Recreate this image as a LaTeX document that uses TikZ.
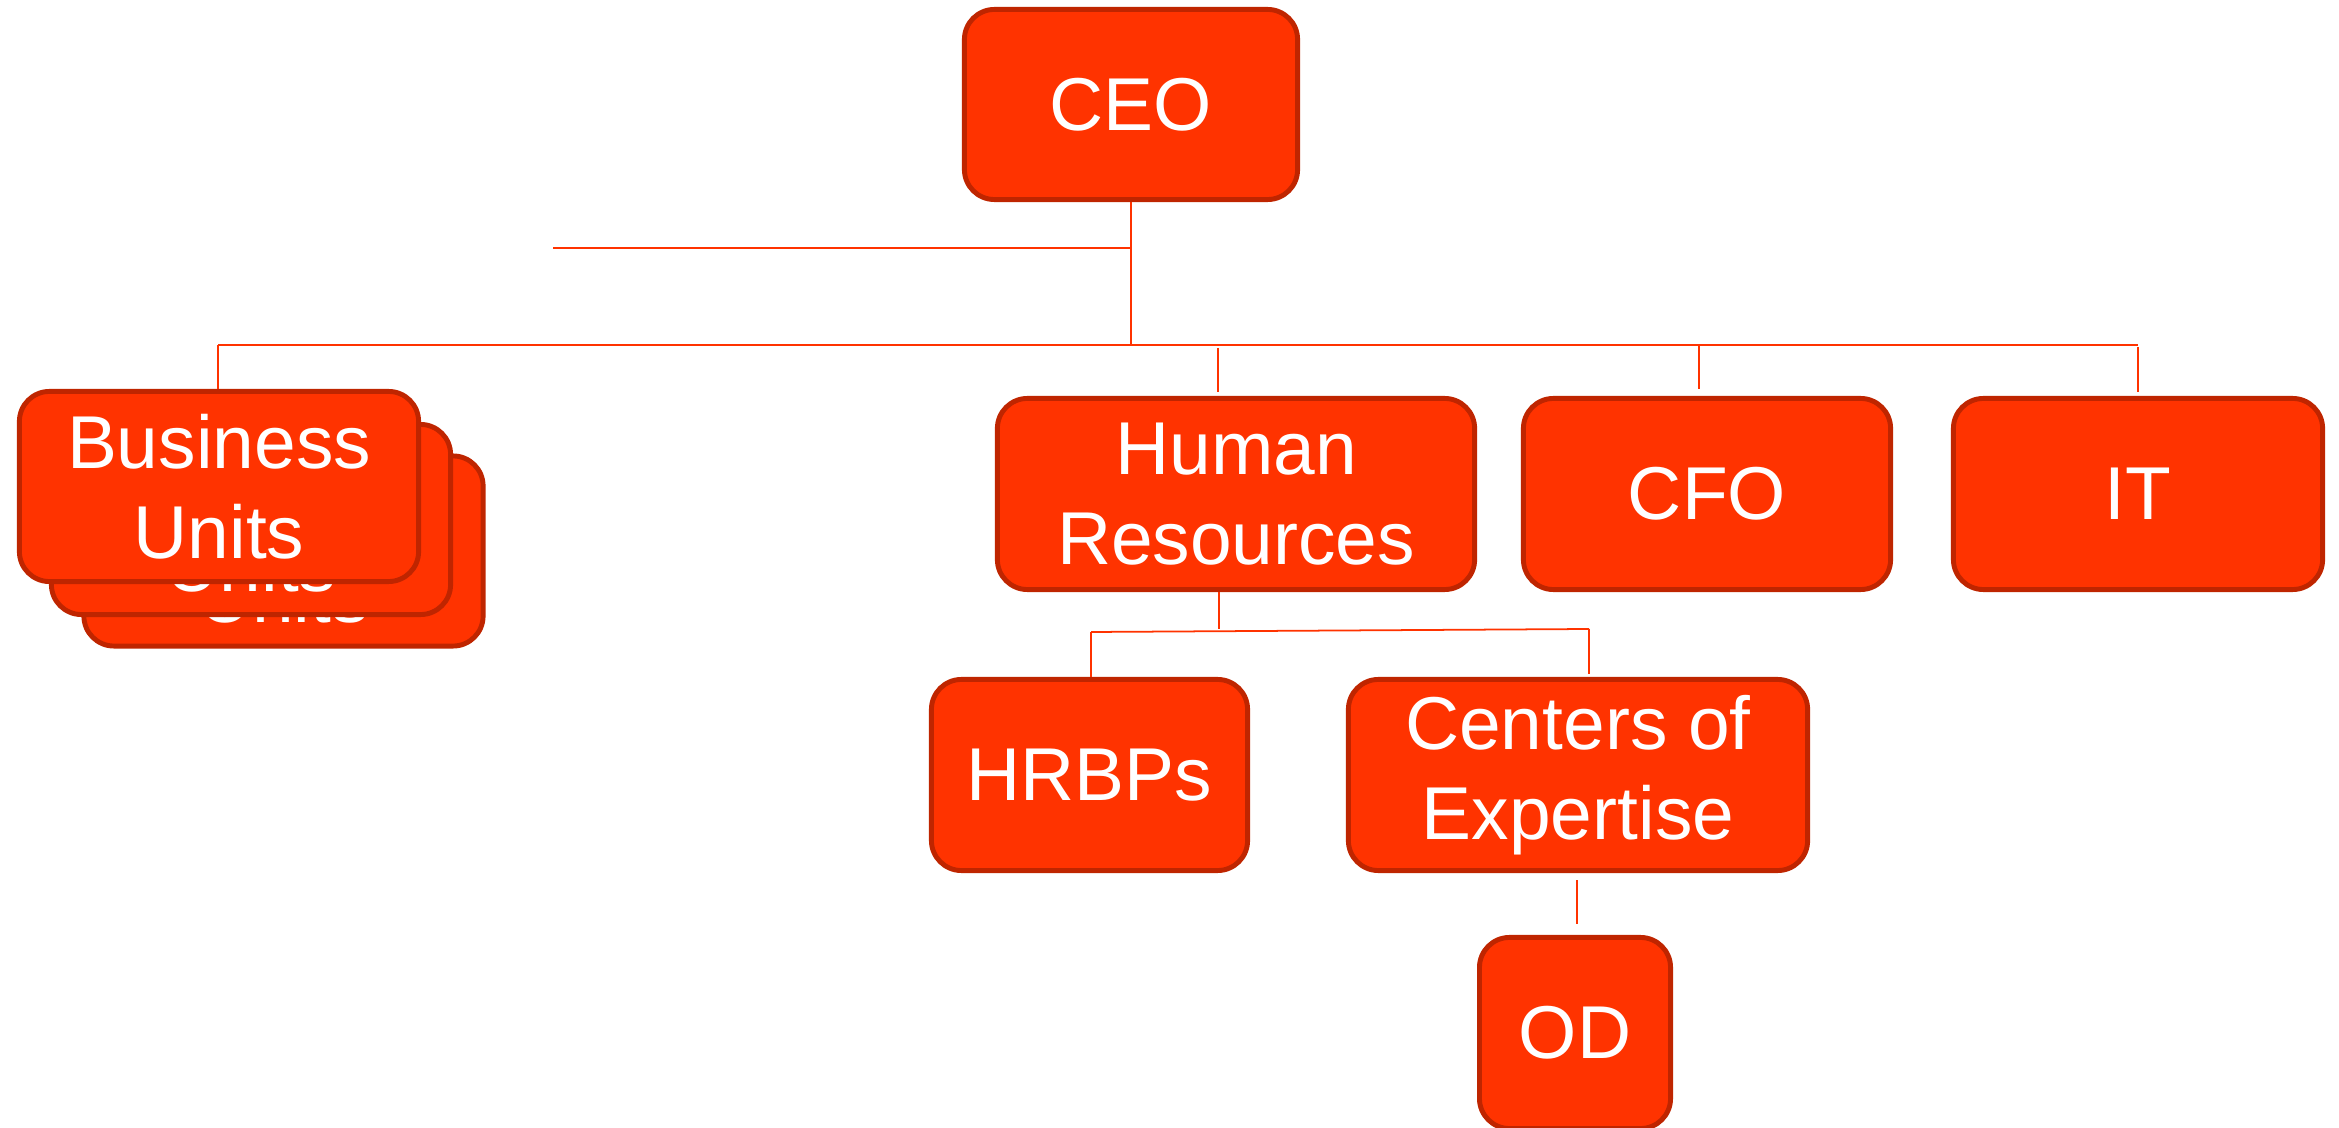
\documentclass[tikz,border=0pt]{standalone}
\usepackage{fontspec}
\setmainfont{Liberation Sans}
\definecolor{boxfill}{HTML}{FF3300}
\definecolor{boxedge}{HTML}{BF2500}
\definecolor{linecol}{HTML}{FF3300}
\begin{document}
\begin{tikzpicture}[x=0.01cm,y=-0.01cm,
  orgbox/.style={rectangle, rounded corners=0.3cm, fill=boxfill, draw=boxedge,
    line width=1.4pt, text=white, inner sep=0pt, align=center,
    font=\fontsize{21.3}{25.6}\selectfont},
  conn/.style={draw=linecol, line width=0.5pt}]
\useasboundingbox (0,0) rectangle (2339,1128);
% nodes (sizes are path sizes: outer minus border)
\node[orgbox, minimum width=3.33cm, minimum height=1.90cm] (ceo) at (1131,104.5) {CEO};
\node[orgbox, minimum width=3.99cm, minimum height=1.90cm] (bu3) at (283.5,551) {Business\\Units};
\node[orgbox, minimum width=3.99cm, minimum height=1.90cm] (bu2) at (251,519.5) {Business\\Units};
\node[orgbox, minimum width=3.99cm, minimum height=1.90cm] (bu1) at (219,486.5) {Business\\Units};
\node[orgbox, minimum width=4.77cm, minimum height=1.91cm] (hr) at (1236,494) {Human\\Resources};
\node[orgbox, minimum width=3.67cm, minimum height=1.91cm] (cfo) at (1707,494) {CFO};
\node[orgbox, minimum width=3.69cm, minimum height=1.91cm] (it) at (2138,494) {IT};
\node[orgbox, minimum width=3.16cm, minimum height=1.91cm] (hrbp) at (1089.5,775) {HRBPs};
\node[orgbox, minimum width=4.59cm, minimum height=1.91cm] (coe) at (1578,775) {Centers of\\Expertise};
\node[orgbox, minimum width=1.91cm, minimum height=1.91cm] (od) at (1575,1033) {OD};
% junction coordinates
\coordinate (ceoBus) at (1131,345);
\coordinate (busL) at (218,345);
\coordinate (busR) at (2138,345);
\coordinate (sideL) at (553,248);
\coordinate (sideR) at (1131,248);
\coordinate (hrA) at (1218,348);
\coordinate (hrB) at (1218,392);
\coordinate (cfoA) at (1699,345);
\coordinate (cfoB) at (1699,389);
\coordinate (itA) at (2138,347);
\coordinate (itB) at (2138,392);
\coordinate (hrDown) at (1219,629);
\coordinate (subL) at (1091,632);
\coordinate (subR) at (1589,629);
\coordinate (coeTop) at (1589,674);
\coordinate (odA) at (1577,880);
\coordinate (odB) at (1577,924);
% connectors
\draw[conn] (ceo.south) -- (ceoBus);
\draw[conn] (sideL) -- (sideR);
\draw[conn] (busL) -- (busR);
\draw[conn] (busL) -- (bu1.north -| busL);
\draw[conn] (hrA) -- (hrB);
\draw[conn] (cfoA) -- (cfoB);
\draw[conn] (itA) -- (itB);
\draw[conn] (hr.south -| hrDown) -- (hrDown);
\draw[conn] (subL) -- (subR);
\draw[conn] (subL) -- (hrbp.north -| subL);
\draw[conn] (subR) -- (coeTop);
\draw[conn] (odA) -- (odB);
\end{tikzpicture}
\end{document}
